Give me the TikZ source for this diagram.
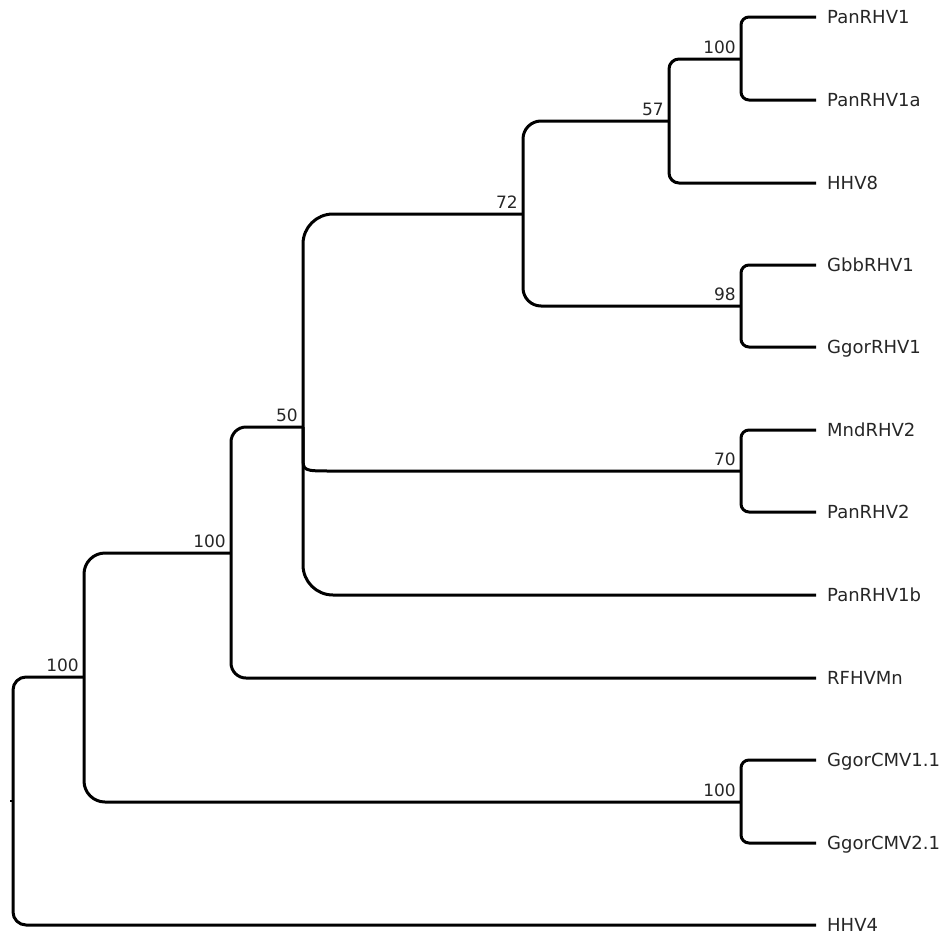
\documentclass[tikz,border=0pt]{standalone}
\usepackage{fontspec}
\setmainfont{DejaVu Sans}
\begin{document}
\begin{tikzpicture}[x=1pt,y=-1pt,
  branch/.style={line width=3pt,line cap=butt,line join=round,black},
  leaf/.style={anchor=base west,inner sep=0pt,text=black!85,font=\fontsize{18}{20}\selectfont},
  boot/.style={anchor=base east,inner sep=0pt,text=black!85,font=\fontsize{17}{19}\selectfont}]
\useasboundingbox (0,0) rectangle (950,937);
% leaf end points
\foreach \n/\y in {1/17,2/100,3/183,4/265,5/347,6/430,7/512,8/595,9/678,10/760,11/843,12/925}
  \coordinate (e\n) at (816,\y);
% leaf labels
\node[leaf] (t1)  at (827,23.5)  {PanRHV1};
\node[leaf] (t2)  at (827,106.5) {PanRHV1a};
\node[leaf] (t3)  at (827,189.5) {HHV8};
\node[leaf] (t4)  at (827,271.5) {GbbRHV1};
\node[leaf] (t5)  at (827,353.5) {GgorRHV1};
\node[leaf] (t6)  at (827,436.5) {MndRHV2};
\node[leaf] (t7)  at (827,518.5) {PanRHV2};
\node[leaf] (t8)  at (827,601.5) {PanRHV1b};
\node[leaf] (t9)  at (827,684.5) {RFHVMn};
\node[leaf] (t10) at (827,766.5) {GgorCMV1.1};
\node[leaf] (t11) at (827,849.5) {GgorCMV2.1};
\node[leaf] (t12) at (827,931.5) {HHV4};
% internal nodes (at the height where their parent joins)
\coordinate (A) at (741,59);
\coordinate (B) at (669,121);
\coordinate (C) at (741,306);
\coordinate (D) at (523,214);
\coordinate (E) at (741,471);
\coordinate (F) at (303,427);
\coordinate (Fe) at (303,471);
\coordinate (G) at (231,553);
\coordinate (H) at (84,677);
\coordinate (I) at (741,802);
\coordinate (R) at (13,801);
% clades
\draw[branch,rounded corners=8pt]  (e1) -| (A) |- (e2);
\draw[branch,rounded corners=10pt] (A) -| (B) |- (e3);
\draw[branch,rounded corners=8pt]  (e4) -| (C) |- (e5);
\draw[branch,rounded corners=18pt] (B) -| (D) |- (C);
\draw[branch,rounded corners=8pt]  (e6) -| (E) |- (e7);
\draw[branch,rounded corners=30pt] (D) -| (F) |- (e8);
\draw[branch] (F) -- ([yshift=14pt]Fe) .. controls (Fe) .. ([xshift=30pt]Fe) -- (E);
\draw[branch,rounded corners=15pt] (F) -| (G) |- (e9);
\draw[branch,rounded corners=8pt]  (e10) -| (I) |- (e11);
\draw[branch,rounded corners=21pt] (G) -| (H) |- (I);
\draw[branch,rounded corners=13pt] (H) -| (R) |- (e12);
\draw[line width=1.5pt] (R) -- ([xshift=-3pt]R);
% bootstrap values
\node[boot] (bA) at ([xshift=-5pt,yshift=6pt]A) {100};
\node[boot] (bB) at ([xshift=-5pt,yshift=6pt]B) {57};
\node[boot] (bC) at ([xshift=-5pt,yshift=6pt]C) {98};
\node[boot] (bD) at ([xshift=-5pt,yshift=6pt]D) {72};
\node[boot] (bE) at ([xshift=-5pt,yshift=6pt]E) {70};
\node[boot] (bF) at ([xshift=-5pt,yshift=6pt]F) {50};
\node[boot] (bG) at ([xshift=-5pt,yshift=6pt]G) {100};
\node[boot] (bH) at ([xshift=-5pt,yshift=6pt]H) {100};
\node[boot] (bI) at ([xshift=-5pt,yshift=6pt]I) {100};
\end{tikzpicture}
\end{document}
